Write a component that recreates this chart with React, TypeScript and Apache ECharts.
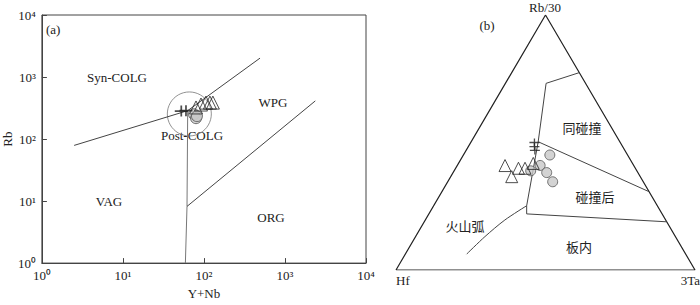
import React, { useEffect, useRef } from "react";
import * as echarts from "echarts";

// ---------- Panel (a): Rb vs Y+Nb (values; plotted as log10 exponents) ----------
const decadeTicksA = [0, 1, 2, 3, 4]; // 10^0 .. 10^4
const decadeLabelsA = ["10⁰", "10¹", "10²", "10³", "10⁴"];
const crossesA = [[52.5, 282], [60, 287]];
const trianglesA = [[79.8, 323], [91.9, 360], [105.8, 387], [118.5, 387], [128.9, 387]];
const circlesA = [[75.4, 251], [79.8, 217], [82, 234]];
const vagSynA = [[2.5, 79], [63, 287]];
const synWpgA = [[63, 287], [492, 2018]];
const vagWpgA = [[59, 1], [61.8, 8.2], [63, 287]];
const wpgOrgA = [[61.8, 8.2], [2367, 412]];
const postColgCircleA = [[66, 254]];

// ---------- Panel (b): ternary [Hf, Rb/30, 3Ta] ----------
const outlineB = [[1, 0, 0], [0, 0, 1], [0, 1, 0], [1, 0, 0]];
const crossesB = [[0.287, 0.5, 0.213], [0.295, 0.484, 0.221], [0.301, 0.469, 0.23]];
const trianglesB = [
  [0.431, 0.41, 0.16],
  [0.43, 0.366, 0.204],
  [0.391, 0.399, 0.21],
  [0.369, 0.399, 0.232],
  [0.332, 0.418, 0.25],
];
const circlesB = [
  [0.26, 0.451, 0.289],
  [0.313, 0.41, 0.277],
  [0.355, 0.389, 0.256],
  [0.305, 0.382, 0.313],
  [0.303, 0.346, 0.351],
];
const synColB = [
  [0, 0.774, 0.226],
  [0.132, 0.732, 0.136],
  [0.273, 0.503, 0.224],
  [0.437, 0.252, 0.311],
  [0.453, 0.22, 0.327],
  [0, 0.189, 0.811],
];
const postColB = [[0.273, 0.503, 0.224], [0, 0.307, 0.693]];
const arcB = [[0.437, 0.252, 0.311], [0.538, 0.196, 0.266], [0.637, 0.131, 0.232], [0.733, 0.062, 0.205]];

const SERIF = "Liberation Serif, serif";
const CJK = "Liberation Serif, Noto Sans CJK SC, serif";

const lg = (p: number[]) => [Math.log10(p[0]), Math.log10(p[1])];

function tern(p: number[]) {
  const s = p[0] + p[1] + p[2];
  const rb = p[1] / s;
  const ta = p[2] / s;
  return [ta + rb / 2, rb];
}

function powLabel(v: number) {
  const i = decadeTicksA.indexOf(Math.round(v));
  return i >= 0 ? decadeLabelsA[i] : "";
}

const cross = "path://M0,4.2 H12 V5.8 H0 Z M5.2,0 H6.8 V10 H5.2 Z";

function text(t: string, x: number, y: number, font: string, align = "center") {
  return {
    type: "text",
    x,
    y,
    silent: true,
    style: { text: t, fill: "#222", font, align, verticalAlign: "middle" },
  };
}

export default function App() {
  const ref = useRef<HTMLDivElement>(null);
  useEffect(() => {
    if (!ref.current) return;
    const chart = echarts.init(ref.current, null, { renderer: "svg" });
    const lineA = (data: number[][], color = "#444") => ({
      type: "line",
      xAxisIndex: 0,
      yAxisIndex: 0,
      data: data.map(lg),
      showSymbol: false,
      symbol: "none",
      lineStyle: { color, width: 1 },
      silent: true,
      z: 2,
    });
    const lineB = (data: number[][], color = "#444", width = 1, smooth: any = false) => ({
      type: "line",
      xAxisIndex: 1,
      yAxisIndex: 1,
      data: data.map(tern),
      showSymbol: false,
      symbol: "none",
      smooth,
      lineStyle: { color, width },
      silent: true,
      z: 2,
    });
    const triStyle = { color: "rgba(0,0,0,0)", borderColor: "#222", borderWidth: 1 };
    const circStyle = { color: "#c8c8c8", borderColor: "#555", borderWidth: 1 };
    const font13 = "13px " + SERIF;
    const cjk13 = "13px " + CJK;
    const logAxis = {
      type: "value",
      gridIndex: 0,
      min: decadeTicksA[0],
      max: decadeTicksA[decadeTicksA.length - 1],
      interval: 1,
      axisLine: { show: true, onZero: false, lineStyle: { color: "#444" } },
      axisTick: { inside: true, length: 5, lineStyle: { color: "#444" } },
      splitLine: { show: false },
      axisLabel: { formatter: powLabel, fontFamily: SERIF, fontSize: 13, color: "#222", margin: 6 },
      nameLocation: "middle",
      nameTextStyle: { fontFamily: SERIF, fontSize: 13, color: "#222" },
    };
    chart.setOption({
      animation: false,
      backgroundColor: "#fff",
      textStyle: { fontFamily: SERIF },
      grid: [
        { left: 40, top: 15, width: 326, height: 255, show: true, borderColor: "#444", borderWidth: 1 },
        { left: 396, top: 15, width: 299, height: 255, show: false },
      ],
      xAxis: [
        { ...logAxis, name: "Y+Nb", nameGap: 22 },
        { type: "value", gridIndex: 1, min: 0, max: 1, show: false },
      ],
      yAxis: [
        { ...logAxis, name: "Rb", nameGap: 24, nameRotate: 90 },
        { type: "value", gridIndex: 1, min: 0, max: 1, show: false },
      ],
      series: [
        lineA(vagSynA),
        lineA(synWpgA),
        lineA(vagWpgA, "#777"),
        lineA(wpgOrgA),
        {
          type: "scatter",
          xAxisIndex: 0,
          yAxisIndex: 0,
          data: postColgCircleA.map(lg),
          symbol: "circle",
          symbolSize: 44,
          itemStyle: { color: "rgba(0,0,0,0)", borderColor: "#777", borderWidth: 1 },
          silent: true,
          z: 1,
        },
        {
          type: "scatter",
          xAxisIndex: 0,
          yAxisIndex: 0,
          data: circlesA.map(lg),
          symbol: "circle",
          symbolSize: 11,
          itemStyle: circStyle,
          z: 3,
        },
        {
          type: "scatter",
          xAxisIndex: 0,
          yAxisIndex: 0,
          data: trianglesA.map(lg),
          symbol: "triangle",
          symbolSize: 13,
          itemStyle: triStyle,
          z: 4,
        },
        {
          type: "scatter",
          xAxisIndex: 0,
          yAxisIndex: 0,
          data: crossesA.map(lg),
          symbol: cross,
          symbolSize: [13, 11],
          itemStyle: { color: "#222" },
          z: 5,
        },
        // Panel (b)
        lineB(outlineB, "#222", 1.2),
        lineB(synColB),
        lineB(postColB),
        lineB(arcB, "#444", 1, 0.3),
        {
          type: "scatter",
          xAxisIndex: 1,
          yAxisIndex: 1,
          data: circlesB.map(tern),
          symbol: "circle",
          symbolSize: 10,
          itemStyle: circStyle,
          z: 3,
        },
        {
          type: "scatter",
          xAxisIndex: 1,
          yAxisIndex: 1,
          data: trianglesB.map(tern),
          symbol: "triangle",
          symbolSize: 12,
          itemStyle: triStyle,
          z: 4,
        },
        {
          type: "scatter",
          xAxisIndex: 1,
          yAxisIndex: 1,
          data: crossesB.map(tern),
          symbol: cross,
          symbolSize: [10, 8],
          itemStyle: { color: "#222" },
          z: 5,
        },
      ],
      graphic: [
        text("(a)", 46, 29, font13, "left"),
        text("Syn-COLG", 117, 77, font13),
        text("WPG", 273, 102, font13),
        text("Post-COLG", 192, 135, font13),
        text("VAG", 109, 201, font13),
        text("ORG", 271, 217, font13),
        text("(b)", 487, 25, font13),
        text("Rb/30", 545, 7, font13),
        text("Hf", 396, 280, font13, "left"),
        text("3Ta", 700, 280, font13, "right"),
        text("同碰撞", 582, 128, cjk13),
        text("碰撞后", 595, 197, cjk13),
        text("火山弧", 465, 226, cjk13),
        text("板内", 579, 247, cjk13),
      ],
    });
    return () => chart.dispose();
  }, []);
  return (
    <div
      ref={ref}
      style={{ position: "fixed", left: 0, top: 0, width: 700, height: 305, background: "#fff" }}
    />
  );
}
